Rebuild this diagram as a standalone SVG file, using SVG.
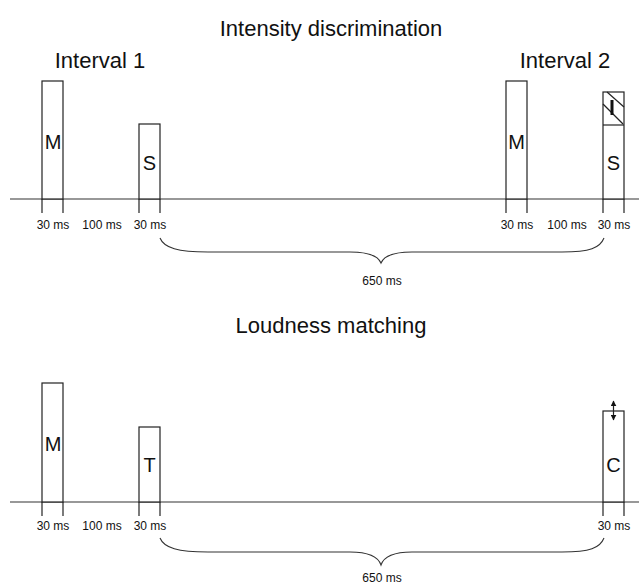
<svg xmlns="http://www.w3.org/2000/svg" width="639" height="586" viewBox="0 0 639 586">
  <style>
    text { font-family: "Liberation Sans", Arial, sans-serif; fill: #111; }
    .title { font-size: 22px; text-anchor: middle; }
    .lbl { font-size: 20px; text-anchor: middle; }
    .dur { font-size: 12px; text-anchor: middle; }
    .box { fill: #fff; stroke: #222; stroke-width: 1.2; }
    .ln { stroke: #222; stroke-width: 1.2; fill: none; }
    .axis { stroke: #333; stroke-width: 1.2; fill: none; }
    .brace { stroke: #333; stroke-width: 1.1; fill: none; }
  </style>
  <defs>
    <marker id="tri" viewBox="0 0 10 10" refX="9" refY="5" markerWidth="5" markerHeight="5" orient="auto-start-reverse">
      <path d="M0,0 L10,5 L0,10 Z" fill="#111"/>
    </marker>
  </defs>
  <rect width="639" height="586" fill="#fff"/>

  <!-- Intensity discrimination panel -->
  <text class="title" x="331" y="36">Intensity discrimination</text>
  <text class="title" x="100" y="68">Interval 1</text>
  <text class="title" x="565" y="68">Interval 2</text>

  <g id="connectors">
    <line class="axis" x1="10" y1="199" x2="639" y2="199"/>
    <line class="axis" x1="10" y1="502" x2="639" y2="502"/>
    <path class="brace" d="M160,238 C164,248 178,252 208,252 L350,252 C368,252 378,256 381,263 C384,256 394,252 412,252 L562,252 C590,252 600,248 604,238"/>
    <path class="brace" d="M160,538 C164,548 178,552 208,552 L350,552 C368,552 378,556 381,565 C384,556 394,552 412,552 L562,552 C590,552 600,548 604,538"/>
  </g>

  <g id="masker1">
    <rect class="box" x="42" y="81" width="21" height="118"/>
    <line class="ln" x1="42" y1="199" x2="42" y2="213"/>
    <line class="ln" x1="63" y1="199" x2="63" y2="213"/>
    <text class="lbl" x="53" y="149">M</text>
  </g>
  <g id="standard1">
    <rect class="box" x="139" y="124" width="21" height="75"/>
    <line class="ln" x1="139" y1="199" x2="139" y2="213"/>
    <line class="ln" x1="160" y1="199" x2="160" y2="213"/>
    <text class="lbl" x="149.5" y="170">S</text>
  </g>
  <g id="masker2">
    <rect class="box" x="506" y="81" width="21" height="118"/>
    <line class="ln" x1="506" y1="199" x2="506" y2="213"/>
    <line class="ln" x1="527" y1="199" x2="527" y2="213"/>
    <text class="lbl" x="516.5" y="149">M</text>
  </g>
  <g id="standard2">
    <rect class="box" x="603" y="92" width="21" height="107"/>
    <line class="ln" x1="603" y1="125" x2="624" y2="125"/>
    <line class="ln" x1="607" y1="92" x2="624" y2="107"/>
    <line class="ln" x1="603" y1="104" x2="623" y2="124"/>
    <line class="ln" x1="603" y1="199" x2="603" y2="213"/>
    <line class="ln" x1="624" y1="199" x2="624" y2="213"/>
    <rect x="610.5" y="100" width="3" height="15" fill="#111"/>
    <text class="lbl" x="613.5" y="170">S</text>
  </g>

  <g id="durations1">
    <text class="dur" x="53" y="229">30 ms</text>
    <text class="dur" x="102" y="229">100 ms</text>
    <text class="dur" x="150" y="229">30 ms</text>
    <text class="dur" x="517" y="229">30 ms</text>
    <text class="dur" x="567" y="229">100 ms</text>
    <text class="dur" x="614" y="229">30 ms</text>
    <text class="dur" x="382" y="285">650 ms</text>
  </g>

  <!-- Loudness matching panel -->
  <text class="title" x="331" y="333">Loudness matching</text>

  <g id="masker3">
    <rect class="box" x="42" y="383" width="21" height="119"/>
    <line class="ln" x1="42" y1="502" x2="42" y2="516"/>
    <line class="ln" x1="63" y1="502" x2="63" y2="516"/>
    <text class="lbl" x="53" y="451">M</text>
  </g>
  <g id="target">
    <rect class="box" x="139" y="427" width="21" height="75"/>
    <line class="ln" x1="139" y1="502" x2="139" y2="516"/>
    <line class="ln" x1="160" y1="502" x2="160" y2="516"/>
    <text class="lbl" x="149.5" y="472">T</text>
  </g>
  <g id="comparison">
    <rect class="box" x="603" y="411" width="21" height="91"/>
    <line class="ln" x1="603" y1="502" x2="603" y2="516"/>
    <line class="ln" x1="624" y1="502" x2="624" y2="516"/>
    <line class="ln" x1="613.5" y1="401" x2="613.5" y2="420" marker-start="url(#tri)" marker-end="url(#tri)"/>
    <text class="lbl" x="613.5" y="472">C</text>
  </g>

  <g id="durations2">
    <text class="dur" x="53" y="530">30 ms</text>
    <text class="dur" x="102" y="530">100 ms</text>
    <text class="dur" x="150" y="530">30 ms</text>
    <text class="dur" x="614" y="530">30 ms</text>
    <text class="dur" x="382" y="582">650 ms</text>
  </g>
</svg>
